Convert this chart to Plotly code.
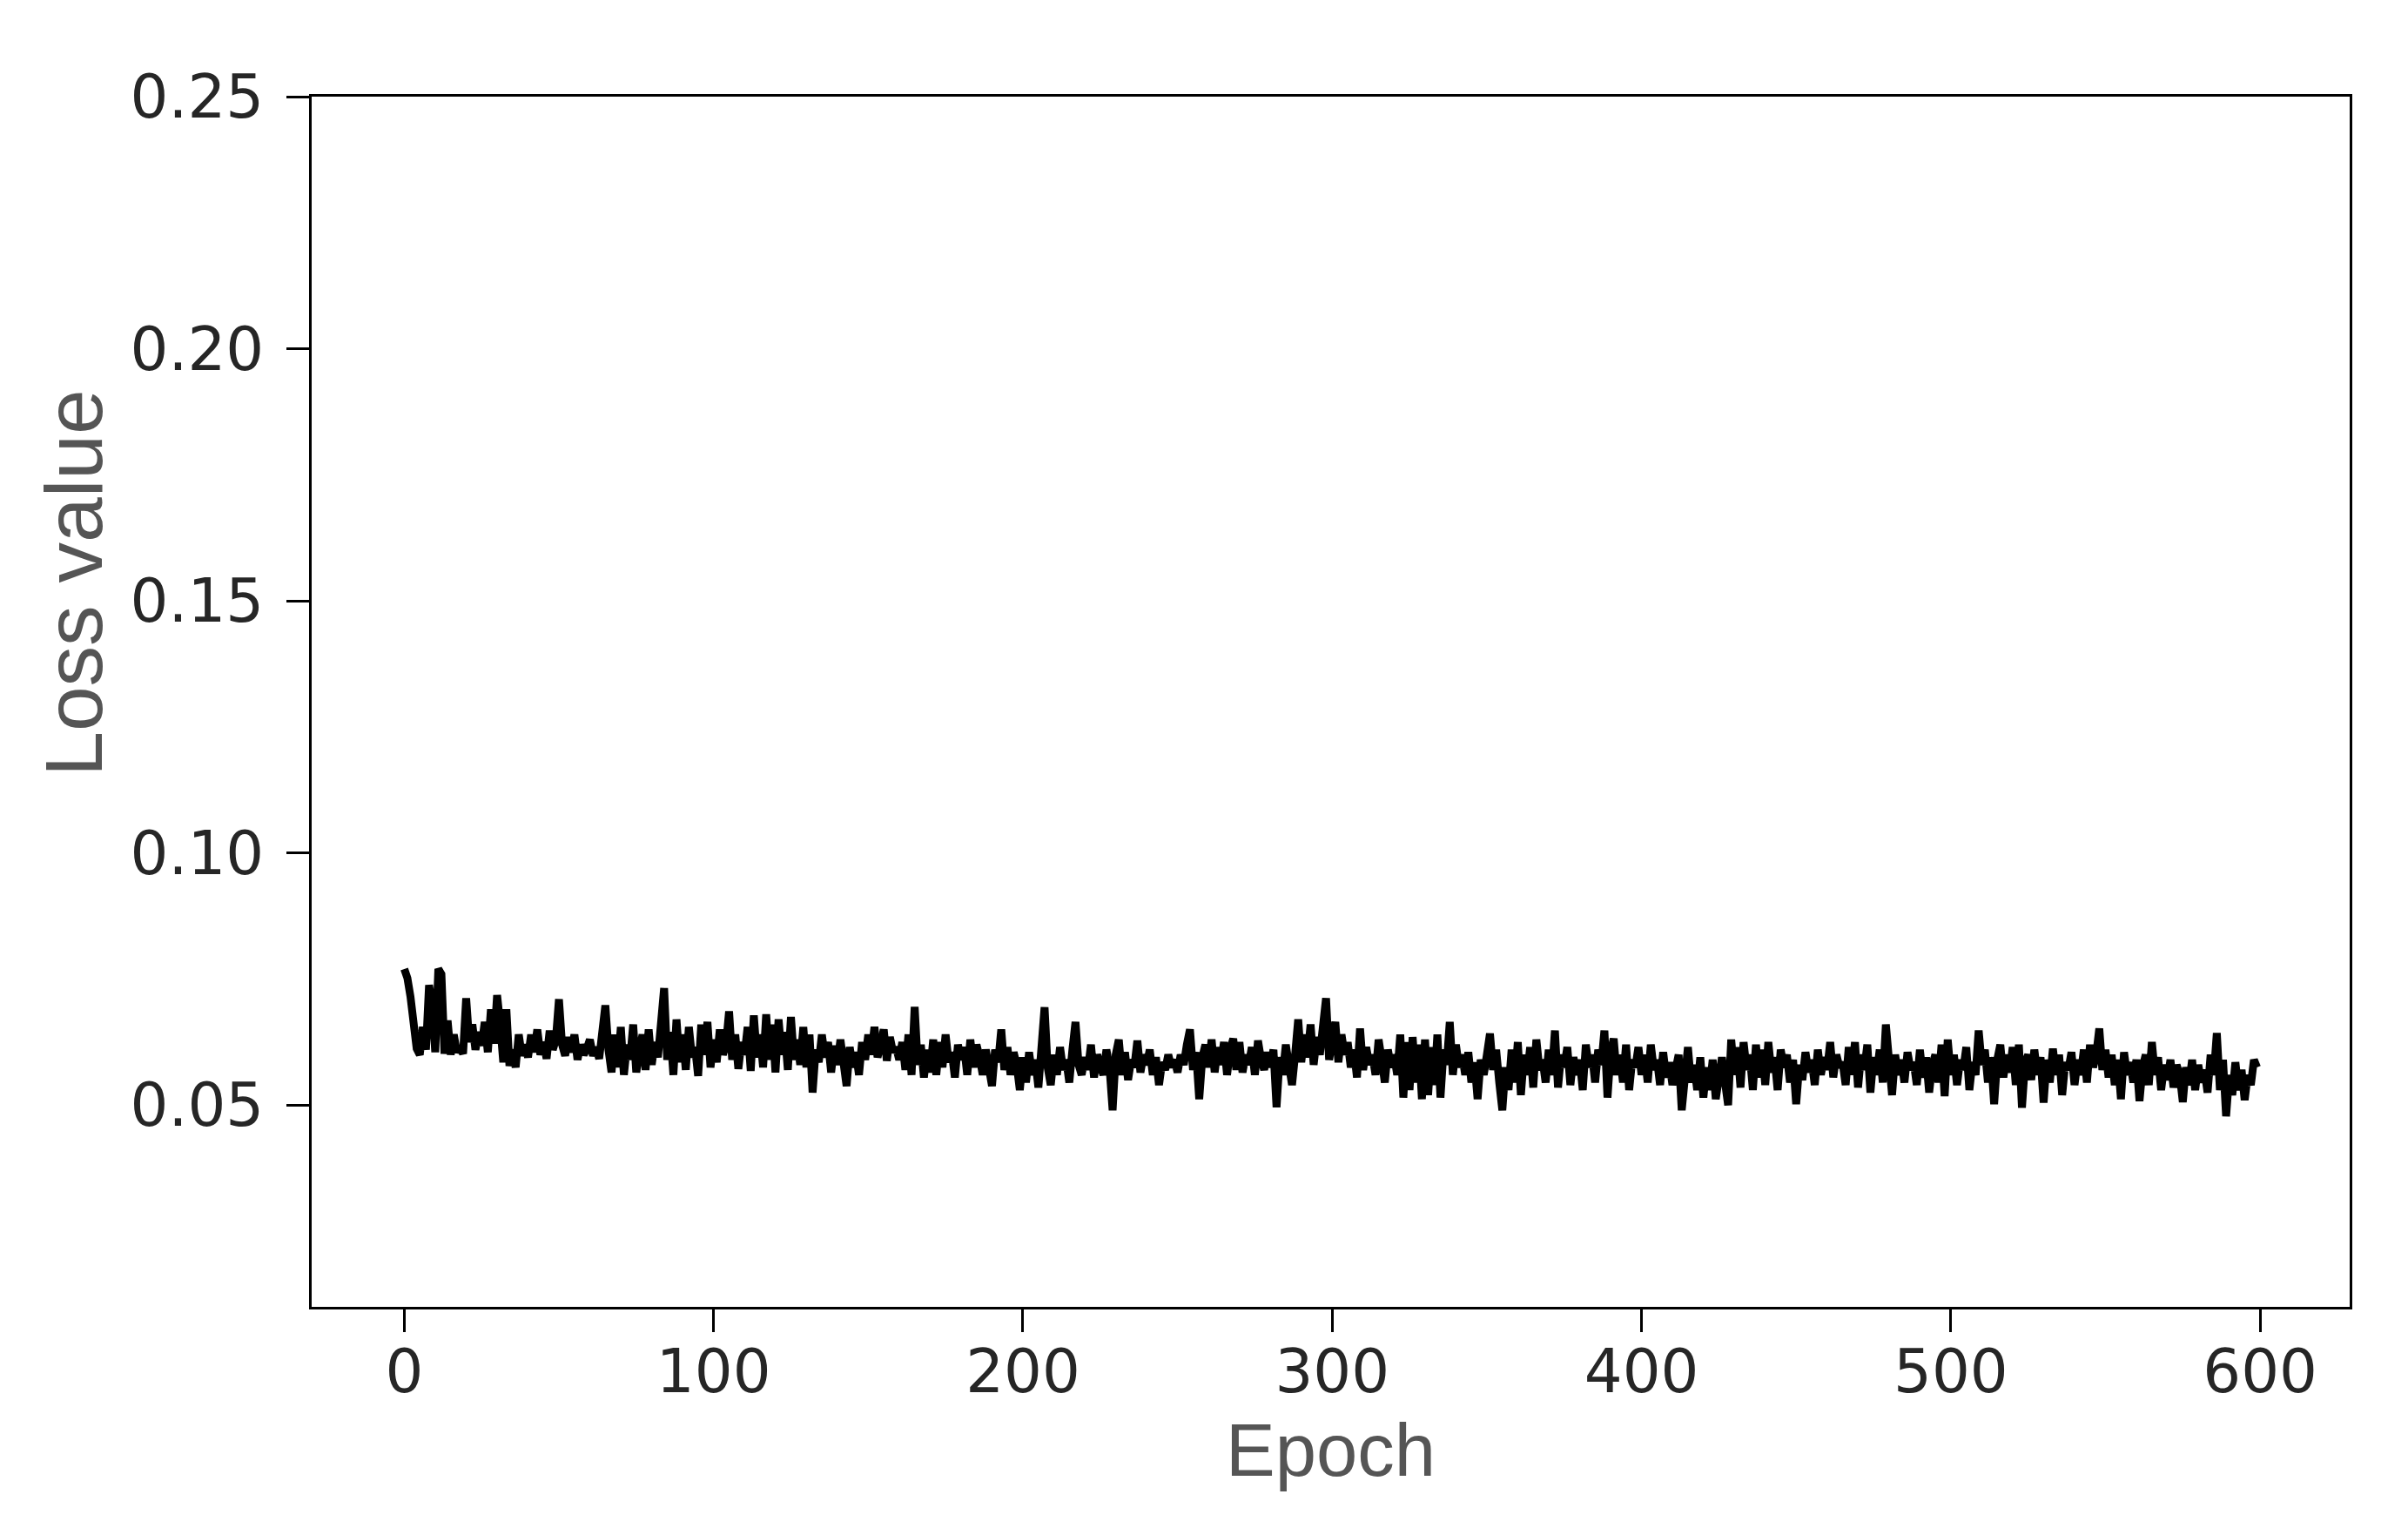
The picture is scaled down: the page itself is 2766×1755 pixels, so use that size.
"""
plot.py

Training loss curve (loss value per epoch) rebuilt with Plotly.
"""

from __future__ import annotations

import plotly.graph_objects as go

# ----------------------------------------------------------------------
# Data (one value per epoch)
# ----------------------------------------------------------------------

loss_values = [
    # 0 - 99
    0.0770, 0.0752, 0.0715, 0.0668, 0.0612, 0.0600, 0.0655, 0.0610, 0.0738, 0.0700,
    0.0605, 0.0770, 0.0760, 0.0602, 0.0668, 0.0600, 0.0640, 0.0605, 0.0615, 0.0602,
    0.0712, 0.0625, 0.0660, 0.0610, 0.0645, 0.0618, 0.0665, 0.0605, 0.0690, 0.0622,
    0.0718, 0.0660, 0.0585, 0.0690, 0.0578, 0.0610, 0.0575, 0.0640, 0.0598, 0.0620,
    0.0595, 0.0640, 0.0605, 0.0650, 0.0600, 0.0625, 0.0592, 0.0648, 0.0610, 0.0630,
    0.0710, 0.0620, 0.0598, 0.0635, 0.0605, 0.0640, 0.0590, 0.0620, 0.0600, 0.0612,
    0.0630, 0.0598, 0.0615, 0.0592, 0.0645, 0.0698, 0.0610, 0.0565, 0.0640, 0.0575,
    0.0655, 0.0560, 0.0620, 0.0590, 0.0660, 0.0565, 0.0605, 0.0640, 0.0570, 0.0650,
    0.0580, 0.0625, 0.0595, 0.0665, 0.0732, 0.0590, 0.0645, 0.0560, 0.0670, 0.0585,
    0.0640, 0.0570, 0.0655, 0.0595, 0.0615, 0.0558, 0.0660, 0.0600, 0.0665, 0.0575,
    # 100 - 199
    0.0630, 0.0585, 0.0650, 0.0600, 0.0620, 0.0686, 0.0590, 0.0640, 0.0572, 0.0625,
    0.0600, 0.0655, 0.0568, 0.0678, 0.0595, 0.0640, 0.0575, 0.0680, 0.0590, 0.0660,
    0.0565, 0.0670, 0.0600, 0.0645, 0.0570, 0.0675, 0.0590, 0.0630, 0.0580, 0.0655,
    0.0575, 0.0640, 0.0525, 0.0610, 0.0585, 0.0640, 0.0595, 0.0625, 0.0565, 0.0618,
    0.0580, 0.0630, 0.0590, 0.0538, 0.0615, 0.0575, 0.0605, 0.0560, 0.0625, 0.0590,
    0.0640, 0.0600, 0.0655, 0.0595, 0.0620, 0.0650, 0.0588, 0.0635, 0.0605, 0.0615,
    0.0590, 0.0625, 0.0570, 0.0640, 0.0560, 0.0695, 0.0580, 0.0620, 0.0555, 0.0610,
    0.0565, 0.0630, 0.0560, 0.0625, 0.0575, 0.0640, 0.0585, 0.0605, 0.0555, 0.0620,
    0.0590, 0.0615, 0.0560, 0.0630, 0.0575, 0.0620, 0.0595, 0.0560, 0.0610, 0.0575,
    0.0538, 0.0610, 0.0585, 0.0650, 0.0570, 0.0615, 0.0560, 0.0605, 0.0580, 0.0530,
    # 200 - 299
    0.0595, 0.0545, 0.0605, 0.0560, 0.0590, 0.0535, 0.0610, 0.0694, 0.0575, 0.0540,
    0.0600, 0.0560, 0.0615, 0.0570, 0.0590, 0.0545, 0.0610, 0.0665, 0.0580, 0.0560,
    0.0595, 0.0570, 0.0620, 0.0555, 0.0600, 0.0580, 0.0560, 0.0610, 0.0575, 0.0490,
    0.0600, 0.0630, 0.0560, 0.0605, 0.0550, 0.0590, 0.0575, 0.0628, 0.0565, 0.0600,
    0.0580, 0.0610, 0.0560, 0.0595, 0.0540, 0.0585, 0.0570, 0.0600, 0.0575, 0.0590,
    0.0565, 0.0600, 0.0580, 0.0620, 0.0650, 0.0570, 0.0605, 0.0512, 0.0595, 0.0620,
    0.0575, 0.0630, 0.0565, 0.0615, 0.0580, 0.0625, 0.0560, 0.0610, 0.0632, 0.0570,
    0.0625, 0.0565, 0.0600, 0.0580, 0.0615, 0.0560, 0.0628, 0.0590, 0.0570, 0.0605,
    0.0575, 0.0610, 0.0496, 0.0595, 0.0560, 0.0620, 0.0575, 0.0540, 0.0600, 0.0670,
    0.0585, 0.0640, 0.0595, 0.0660, 0.0580, 0.0635, 0.0600, 0.0650, 0.0712, 0.0590,
    # 300 - 399
    0.0620, 0.0665, 0.0585, 0.0640, 0.0600, 0.0625, 0.0575, 0.0610, 0.0555, 0.0652,
    0.0570, 0.0615, 0.0580, 0.0600, 0.0560, 0.0630, 0.0590, 0.0545, 0.0610, 0.0575,
    0.0600, 0.0560, 0.0640, 0.0515, 0.0625, 0.0530, 0.0635, 0.0545, 0.0620, 0.0512,
    0.0630, 0.0520, 0.0615, 0.0540, 0.0640, 0.0515, 0.0610, 0.0580, 0.0665, 0.0560,
    0.0620, 0.0575, 0.0600, 0.0560, 0.0605, 0.0545, 0.0585, 0.0512, 0.0590, 0.0560,
    0.0600, 0.0642, 0.0570, 0.0610, 0.0545, 0.0490, 0.0575, 0.0530, 0.0610, 0.0545,
    0.0625, 0.0520, 0.0600, 0.0560, 0.0615, 0.0535, 0.0630, 0.0570, 0.0590, 0.0545,
    0.0610, 0.0560, 0.0648, 0.0535, 0.0600, 0.0575, 0.0615, 0.0540, 0.0595, 0.0560,
    0.0590, 0.0530, 0.0620, 0.0575, 0.0600, 0.0545, 0.0610, 0.0580, 0.0648, 0.0515,
    0.0605, 0.0632, 0.0560, 0.0600, 0.0545, 0.0620, 0.0530, 0.0590, 0.0575, 0.0615,
    # 400 - 499
    0.0560, 0.0600, 0.0545, 0.0620, 0.0570, 0.0590, 0.0540, 0.0605, 0.0555, 0.0585,
    0.0540, 0.0575, 0.0600, 0.0490, 0.0560, 0.0615, 0.0545, 0.0580, 0.0530, 0.0595,
    0.0515, 0.0575, 0.0530, 0.0590, 0.0512, 0.0565, 0.0595, 0.0545, 0.0500, 0.0630,
    0.0560, 0.0615, 0.0535, 0.0625, 0.0570, 0.0600, 0.0530, 0.0620, 0.0555, 0.0610,
    0.0540, 0.0625, 0.0565, 0.0595, 0.0530, 0.0610, 0.0575, 0.0600, 0.0545, 0.0590,
    0.0502, 0.0580, 0.0550, 0.0605, 0.0565, 0.0590, 0.0540, 0.0610, 0.0560, 0.0595,
    0.0570, 0.0625, 0.0555, 0.0600, 0.0575, 0.0585, 0.0540, 0.0615, 0.0560, 0.0625,
    0.0535, 0.0600, 0.0570, 0.0620, 0.0525, 0.0595, 0.0560, 0.0610, 0.0545, 0.0660,
    0.0575, 0.0520, 0.0600, 0.0560, 0.0590, 0.0545, 0.0605, 0.0570, 0.0585, 0.0540,
    0.0610, 0.0555, 0.0595, 0.0525, 0.0580, 0.0600, 0.0545, 0.0620, 0.0518, 0.0630,
    # 500 - 599
    0.0560, 0.0600, 0.0540, 0.0590, 0.0570, 0.0615, 0.0530, 0.0585, 0.0560, 0.0648,
    0.0580, 0.0610, 0.0545, 0.0595, 0.0502, 0.0590, 0.0620, 0.0555, 0.0600, 0.0565,
    0.0615, 0.0540, 0.0620, 0.0495, 0.0585, 0.0600, 0.0550, 0.0610, 0.0560, 0.0595,
    0.0505, 0.0590, 0.0545, 0.0612, 0.0560, 0.0600, 0.0520, 0.0585, 0.0570, 0.0605,
    0.0540, 0.0590, 0.0560, 0.0610, 0.0545, 0.0620, 0.0575, 0.0600, 0.0652, 0.0570,
    0.0610, 0.0555, 0.0600, 0.0540, 0.0590, 0.0512, 0.0605, 0.0560, 0.0585, 0.0545,
    0.0590, 0.0508, 0.0575, 0.0600, 0.0540, 0.0625, 0.0560, 0.0595, 0.0530, 0.0580,
    0.0550, 0.0590, 0.0535, 0.0580, 0.0560, 0.0506, 0.0575, 0.0540, 0.0590, 0.0530,
    0.0580, 0.0545, 0.0570, 0.0525, 0.0600, 0.0560, 0.0643, 0.0530, 0.0590, 0.0478,
    0.0560, 0.0520, 0.0585, 0.0530, 0.0570, 0.0510, 0.0560, 0.0540, 0.0590, 0.0575,
]

epochs = list(range(len(loss_values)))

x_ticks = [0, 100, 200, 300, 400, 500, 600]
y_ticks = [0.05, 0.10, 0.15, 0.20, 0.25]

# ----------------------------------------------------------------------
# Theme
# ----------------------------------------------------------------------

TICK_FONT = dict(family="DejaVu Sans", size=69, color="#262626")
TITLE_FONT = dict(family="Liberation Sans, Arial", size=85, color="#555555")
FRAME = "#000000"

# ----------------------------------------------------------------------
# Figure
# ----------------------------------------------------------------------

fig = go.Figure()

fig.add_trace(
    go.Scatter(
        x=epochs,
        y=loss_values,
        mode="lines",
        line=dict(color="#000000", width=9),
        showlegend=False,
    )
)

axis_common = dict(
    showline=True,
    linecolor=FRAME,
    linewidth=3,
    mirror=True,
    showgrid=False,
    zeroline=False,
    ticks="outside",
    ticklen=26,
    tickwidth=3,
    tickcolor=FRAME,
    tickfont=TICK_FONT,
)

fig.update_xaxes(
    range=[-29.95, 628.95],
    tickvals=x_ticks,
    ticklabelstandoff=-14,
    **axis_common,
)

fig.update_yaxes(
    range=[0.01, 0.25],
    tickvals=y_ticks,
    tickformat=".2f",
    ticklabelstandoff=12,
    **axis_common,
)

# axis titles placed as annotations so they sit where the original has them
fig.add_annotation(
    text="Epoch",
    xref="paper",
    yref="paper",
    x=0.5,
    y=-0.118,
    xanchor="center",
    yanchor="middle",
    showarrow=False,
    font=TITLE_FONT,
)

fig.add_annotation(
    text="Loss value",
    xref="paper",
    yref="paper",
    x=-0.1166,
    y=0.598,
    xanchor="center",
    yanchor="middle",
    textangle=-90,
    showarrow=False,
    font=dict(TITLE_FONT, size=93),
)

fig.update_layout(
    width=2750,
    height=1739,
    margin=dict(l=350, r=59, t=103, b=246),
    paper_bgcolor="#ffffff",
    plot_bgcolor="#ffffff",
)

fig.write_html("out.html")
